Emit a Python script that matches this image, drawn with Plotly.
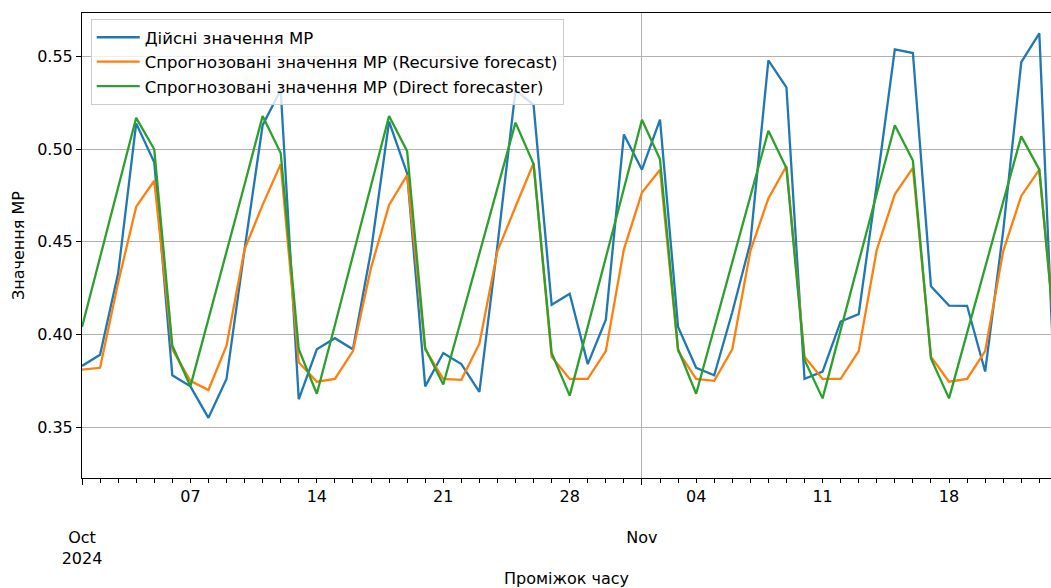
import pandas as pd
import plotly.graph_objects as go

# Daily series, 1 Oct – 24 Nov 2024
dates = pd.date_range("2024-10-01", periods=55, freq="D")

actual = [
    0.383, 0.389, 0.433, 0.514, 0.493, 0.378, 0.372, 0.355, 0.376, 0.446,
    0.513, 0.532, 0.365, 0.392, 0.398, 0.392, 0.445, 0.515, 0.487, 0.372,
    0.390, 0.384, 0.369, 0.448, 0.532, 0.524, 0.416, 0.422, 0.384, 0.408,
    0.508, 0.489, 0.516, 0.404, 0.382, 0.378, 0.412, 0.4495, 0.548, 0.5335,
    0.376, 0.380, 0.407, 0.411, 0.481, 0.554, 0.552, 0.426, 0.4156, 0.4155,
    0.380, 0.456, 0.547, 0.5626, 0.334,
]

recursive = [
    0.381, 0.382, 0.428, 0.469, 0.483, 0.392, 0.375, 0.370, 0.394, 0.446,
    0.470, 0.492, 0.385, 0.3745, 0.376, 0.391, 0.436, 0.470, 0.486, 0.392,
    0.376, 0.3755, 0.395, 0.445, 0.469, 0.4925, 0.388, 0.376, 0.376, 0.391,
    0.446, 0.4766, 0.489, 0.391, 0.376, 0.375, 0.392, 0.445, 0.4735, 0.491,
    0.388, 0.376, 0.376, 0.391, 0.4458, 0.4757, 0.490, 0.388, 0.3745, 0.376,
    0.391, 0.445, 0.4748, 0.489, 0.385,
]

direct = [
    0.404, 0.442, 0.480, 0.517, 0.500, 0.394, 0.372, 0.408, 0.445, 0.481,
    0.518, 0.498, 0.392, 0.368, 0.405, 0.443, 0.480, 0.518, 0.499, 0.3925,
    0.373, 0.4086, 0.4438, 0.479, 0.5144, 0.492, 0.390, 0.367, 0.404, 0.441,
    0.479, 0.516, 0.4946, 0.392, 0.368, 0.4035, 0.439, 0.4744, 0.510, 0.4897,
    0.3862, 0.3655, 0.4024, 0.4393, 0.476, 0.513, 0.4939, 0.387, 0.3655, 0.401,
    0.4365, 0.472, 0.507, 0.489, 0.384,
]

series_names = [
    "Дійсні значення MP",
    "Спрогнозовані значення MP (Recursive forecast)",
    "Спрогнозовані значення MP (Direct forecaster)",
]
series_colors = ["#1f77b4", "#ff7f0e", "#2ca02c"]
# the last series sits on the overlaid month axis so that axis gets drawn
series_axes = ["x", "x", "x2"]

week_ticks = pd.to_datetime(["2024-10-07", "2024-10-14", "2024-10-21", "2024-10-28",
                             "2024-11-04", "2024-11-11", "2024-11-18"])
week_labels = ["07", "14", "21", "28", "04", "11", "18"]
month_ticks = pd.to_datetime(["2024-10-01", "2024-11-01"])
month_labels = ["Oct<br>2024", "Nov"]

y_ticks = [0.35, 0.40, 0.45, 0.50, 0.55]
y_labels = ["0.35", "0.40", "0.45", "0.50", "0.55"]

x_range = [pd.Timestamp("2024-10-01"), pd.Timestamp("2024-11-23 15:30")]
y_range = [0.3225, 0.5736]

FONT = "DejaVu Sans"
FS = 16
INK = "#000000"
GRID = "#b0b0b0"

fig = go.Figure()
for i, (name, vals, col, ax) in enumerate(zip(series_names, [actual, recursive, direct],
                                              series_colors, series_axes)):
    fig.add_trace(go.Scatter(
        x=dates, y=vals, mode="lines", name=name,
        line=dict(color=col, width=2.3),
        xaxis=ax, yaxis="y",
        legendgroup=f"g{i}",
    ))

fig.update_layout(
    width=1051, height=588,
    margin=dict(l=82, r=0, t=13, b=110),
    paper_bgcolor="white", plot_bgcolor="white",
    font=dict(family=FONT, size=FS, color=INK),
    showlegend=True,
    legend=dict(
        x=0.009, y=0.987, xanchor="left", yanchor="top",
        bgcolor="rgba(255,255,255,0.8)", bordercolor="#cccccc", borderwidth=1,
        font=dict(family=FONT, size=16.5, color=INK),
        tracegroupgap=0, traceorder="grouped", itemwidth=43,
    ),
    xaxis=dict(
        type="date", range=x_range,
        tickmode="array", tickvals=week_ticks, ticktext=week_labels,
        ticks="outside", ticklen=4, tickwidth=1, tickcolor=INK,
        showgrid=False, zeroline=False,
        showline=True, linecolor=INK, linewidth=1, mirror=True,
        minor=dict(ticks="outside", ticklen=4, tickwidth=1, tickcolor=INK,
                   tick0="2024-10-01", dtick=86400000, showgrid=False),
        title=dict(text="Проміжок часу", standoff=68, font=dict(size=FS)),
        tickfont=dict(size=FS),
    ),
    xaxis2=dict(
        type="date", range=x_range, overlaying="x", anchor="y", side="bottom",
        tickmode="array", tickvals=month_ticks, ticktext=month_labels,
        ticks="outside", ticklen=6, tickwidth=1, tickcolor=INK,
        ticklabelstandoff=39,
        showgrid=True, gridcolor=GRID, gridwidth=1,
        showline=False, zeroline=False,
        tickfont=dict(size=FS),
    ),
    yaxis=dict(
        range=y_range,
        tickmode="array", tickvals=y_ticks, ticktext=y_labels,
        ticks="outside", ticklen=5, tickwidth=1, tickcolor=INK,
        showgrid=True, gridcolor=GRID, gridwidth=1, zeroline=False,
        showline=True, linecolor=INK, linewidth=1,
        title=dict(text="Значення MP", standoff=8, font=dict(size=FS)),
        tickfont=dict(size=FS),
    ),
)

fig.write_html("out.html")
